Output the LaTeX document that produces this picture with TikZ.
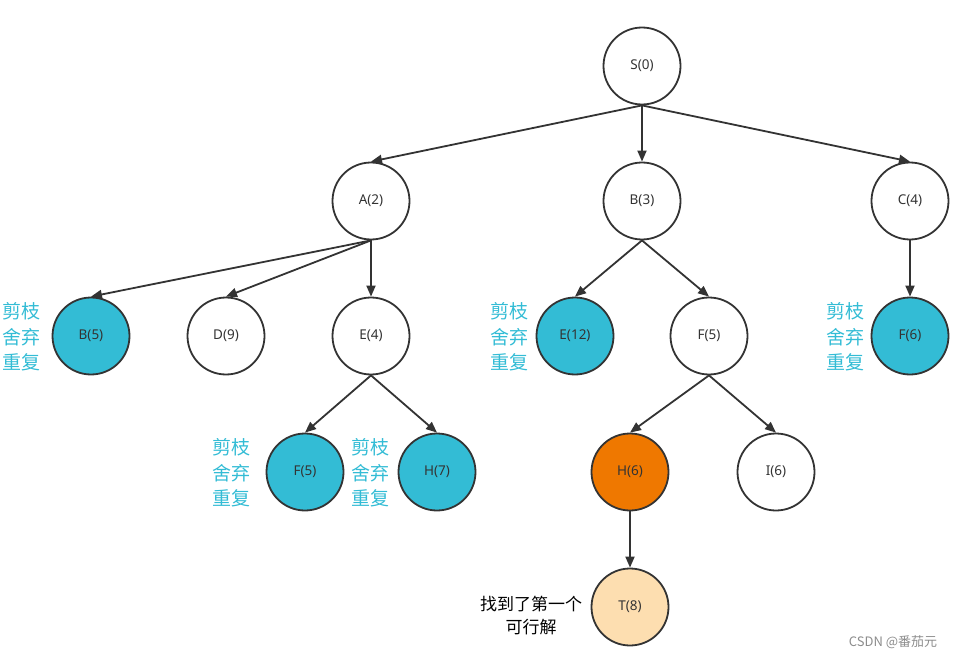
\documentclass[tikz,border=0pt]{standalone}
\usepackage{fontspec}
\setmainfont{Noto Sans}
\newfontfamily\cjk{Noto Sans CJK SC}
\usetikzlibrary{arrows.meta}
\definecolor{edgec}{HTML}{333333}
\definecolor{cyanf}{HTML}{33BCD5}
\definecolor{oranf}{HTML}{EF7800}
\definecolor{lightf}{HTML}{FDDEB0}
\definecolor{labc}{HTML}{33BCD5}
\begin{document}
\begin{tikzpicture}[x=1pt,y=-1pt,
  nd/.style={circle,draw=edgec,line width=1.8pt,minimum size=77pt,inner sep=0pt,font=\fontsize{13.5}{15}\selectfont,text=edgec,fill=white},
  cy/.style={nd,fill=cyanf},
  og/.style={nd,fill=oranf},
  lt/.style={nd,fill=lightf},
  ed/.style={draw=edgec,line width=1.8pt,-{Triangle[length=11pt,width=9pt]}},
  lab/.style={align=center,text=labc,font=\cjk\fontsize{19}{25.5}\selectfont,inner sep=0pt}
]
\useasboundingbox (0,0) rectangle (959,658);
\node[nd] (S) at (642,66) {S(0)};
\node[nd] (A) at (371,201) {A(2)};
\node[nd] (B) at (642,201) {B(3)};
\node[nd] (C) at (910,201) {C(4)};
\node[cy] (B5) at (91,336) {B(5)};
\node[nd] (D9) at (226,336) {D(9)};
\node[nd] (E4) at (371,336) {E(4)};
\node[cy] (E12) at (575,336) {E(12)};
\node[nd] (F5) at (709,336) {F(5)};
\node[cy] (F6) at (910,336) {F(6)};
\node[cy] (F5b) at (305,472) {F(5)};
\node[cy] (H7) at (437,472) {H(7)};
\node[og] (H6) at (630,472) {H(6)};
\node[nd] (I6) at (776,472) {I(6)};
\node[lt] (T8) at (630,607) {T(8)};

\draw[ed] (S.south) -- (A.north);
\draw[ed] (S.south) -- (B.north);
\draw[ed] (S.south) -- (C.north);
\draw[ed] (A.south) -- (B5.north);
\draw[ed] (A.south) -- (D9.north);
\draw[ed] (A.south) -- (E4.north);
\draw[ed] (B.south) -- (E12.north);
\draw[ed] (B.south) -- (F5.north);
\draw[ed] (C.south) -- (F6.north);
\draw[ed] (E4.south) -- (F5b.north);
\draw[ed] (E4.south) -- (H7.north);
\draw[ed] (F5.south) -- (H6.north);
\draw[ed] (F5.south) -- (I6.north);
\draw[ed] (H6.south) -- (T8.north);

\node[lab] (l1) at (21,337) {剪枝\\舍弃\\重复};
\node[lab] (l2) at (231,473) {剪枝\\舍弃\\重复};
\node[lab] (l3) at (370,473) {剪枝\\舍弃\\重复};
\node[lab] (l4) at (509,337) {剪枝\\舍弃\\重复};
\node[lab] (l5) at (845,337) {剪枝\\舍弃\\重复};
\node[align=center,inner sep=0pt,font=\cjk\fontsize{17}{23}\selectfont,text=black] (tl) at (531,616) {找到了第一个\\可行解};
\node[inner sep=0pt,font=\cjk\fontsize{13}{15}\selectfont,text=black!45] (wm) at (893,642) {CSDN @番茄元};
\end{tikzpicture}
\end{document}
